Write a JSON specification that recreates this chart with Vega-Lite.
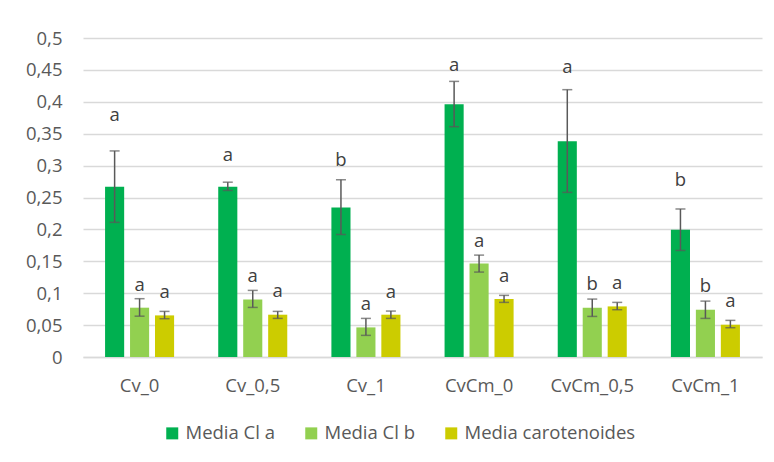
{
  "$schema": "https://vega.github.io/schema/vega-lite/v6.json",
  "width": 679,
  "height": 319,
  "autosize": "none",
  "padding": {"left": 83, "top": 38, "right": 12, "bottom": 105},
  "background": "white",
  "data": {
    "values": [
      {"grupo": "Cv_0", "serie": "Media Cl a", "valor": 0.267, "lo": 0.211, "hi": 0.323, "letra": "a", "pos_letra": 0.370},
      {"grupo": "Cv_0", "serie": "Media Cl b", "valor": 0.0773, "lo": 0.064, "hi": 0.0914, "letra": "a", "pos_letra": 0.103},
      {"grupo": "Cv_0", "serie": "Media carotenoides", "valor": 0.0652, "lo": 0.060, "hi": 0.0715, "letra": "a", "pos_letra": 0.093},
      {"grupo": "Cv_0,5", "serie": "Media Cl a", "valor": 0.267, "lo": 0.261, "hi": 0.274, "letra": "a", "pos_letra": 0.307},
      {"grupo": "Cv_0,5", "serie": "Media Cl b", "valor": 0.0903, "lo": 0.0777, "hi": 0.1044, "letra": "a", "pos_letra": 0.1174},
      {"grupo": "Cv_0,5", "serie": "Media carotenoides", "valor": 0.0663, "lo": 0.0605, "hi": 0.0715, "letra": "a", "pos_letra": 0.0935},
      {"grupo": "Cv_1", "serie": "Media Cl a", "valor": 0.2345, "lo": 0.192, "hi": 0.278, "letra": "b", "pos_letra": 0.299},
      {"grupo": "Cv_1", "serie": "Media Cl b", "valor": 0.0464, "lo": 0.0339, "hi": 0.0605, "letra": "a", "pos_letra": 0.0731},
      {"grupo": "Cv_1", "serie": "Media carotenoides", "valor": 0.0663, "lo": 0.0605, "hi": 0.072, "letra": "a", "pos_letra": 0.093},
      {"grupo": "CvCm_0", "serie": "Media Cl a", "valor": 0.396, "lo": 0.361, "hi": 0.432, "letra": "a", "pos_letra": 0.448},
      {"grupo": "CvCm_0", "serie": "Media Cl b", "valor": 0.1467, "lo": 0.1331, "hi": 0.1597, "letra": "a", "pos_letra": 0.1723},
      {"grupo": "CvCm_0", "serie": "Media carotenoides", "valor": 0.0908, "lo": 0.0856, "hi": 0.0966, "letra": "a", "pos_letra": 0.1174},
      {"grupo": "CvCm_0,5", "serie": "Media Cl a", "valor": 0.338, "lo": 0.258, "hi": 0.419, "letra": "a", "pos_letra": 0.4446},
      {"grupo": "CvCm_0,5", "serie": "Media Cl b", "valor": 0.0773, "lo": 0.0636, "hi": 0.0908, "letra": "b", "pos_letra": 0.1049},
      {"grupo": "CvCm_0,5", "serie": "Media carotenoides", "valor": 0.0793, "lo": 0.0741, "hi": 0.0856, "letra": "a", "pos_letra": 0.1071},
      {"grupo": "CvCm_1", "serie": "Media Cl a", "valor": 0.1995, "lo": 0.167, "hi": 0.232, "letra": "b", "pos_letra": 0.2674},
      {"grupo": "CvCm_1", "serie": "Media Cl b", "valor": 0.0741, "lo": 0.0605, "hi": 0.0876, "letra": "b", "pos_letra": 0.1018},
      {"grupo": "CvCm_1", "serie": "Media carotenoides", "valor": 0.0506, "lo": 0.0459, "hi": 0.0574, "letra": "a", "pos_letra": 0.0782}
    ]
  },
  "encoding": {
    "x": {
      "field": "grupo",
      "type": "nominal",
      "sort": ["Cv_0", "Cv_0,5", "Cv_1", "CvCm_0", "CvCm_0,5", "CvCm_1"],
      "scale": {"paddingInner": 0.39, "paddingOuter": 0.195},
      "axis": {
        "title": null,
        "labelAngle": 0,
        "ticks": false,
        "domainColor": "#d9d9d9",
        "domainWidth": 1.3,
        "labelPadding": 19,
        "labelBaseline": "top"
      }
    },
    "xOffset": {
      "field": "serie",
      "type": "nominal",
      "sort": ["Media Cl a", "Media Cl b", "Media carotenoides"],
      "scale": {"paddingInner": 0.235, "paddingOuter": 0}
    }
  },
  "layer": [
    {
      "mark": {"type": "bar"},
      "encoding": {
        "y": {
          "field": "valor",
          "type": "quantitative",
          "scale": {"domain": [0, 0.5], "nice": false},
          "axis": {"title": null}
        },
        "color": {
          "field": "serie",
          "type": "nominal",
          "sort": ["Media Cl a", "Media Cl b", "Media carotenoides"],
          "scale": {
            "domain": ["Media Cl a", "Media Cl b", "Media carotenoides"],
            "range": ["#00b050", "#92d050", "#cccc00"]
          },
          "legend": {
            "title": null,
            "orient": "none",
            "direction": "horizontal",
            "legendX": 80,
            "legendY": 386,
            "symbolType": "square",
            "symbolSize": 144,
            "symbolStrokeWidth": 0,
            "labelOffset": 4,
            "labelLimit": 300,
            "columnPadding": 26
          }
        }
      }
    },
    {
      "mark": {"type": "rule", "color": "#595959", "strokeWidth": 1.5},
      "encoding": {
        "y": {"field": "lo", "type": "quantitative", "axis": {"title": null}},
        "y2": {"field": "hi"}
      }
    },
    {
      "mark": {"type": "tick", "color": "#595959", "thickness": 1.5, "size": 10},
      "encoding": {"y": {"field": "lo", "type": "quantitative", "axis": {"title": null}}}
    },
    {
      "mark": {"type": "tick", "color": "#595959", "thickness": 1.5, "size": 10},
      "encoding": {"y": {"field": "hi", "type": "quantitative", "axis": {"title": null}}}
    },
    {
      "mark": {
        "type": "text",
        "baseline": "alphabetic",
        "align": "center",
        "font": "Open Sans",
        "fontSize": 18.5,
        "color": "#404040"
      },
      "encoding": {
        "y": {"field": "pos_letra", "type": "quantitative", "axis": {"title": null}},
        "text": {"field": "letra"}
      }
    }
  ],
  "config": {
    "view": {"stroke": null},
    "axis": {
      "labelFont": "Open Sans",
      "labelFontSize": 18.5,
      "labelColor": "#595959"
    },
    "axisY": {
      "tickCount": 10,
      "labelOverlap": false,
      "labelExpr": "replace(format(datum.value, '~g'), '.', ',')",
      "domain": false,
      "ticks": false,
      "grid": true,
      "gridColor": "#d9d9d9",
      "gridWidth": 1.3,
      "labelPadding": 21
    },
    "legend": {
      "labelFont": "Open Sans",
      "labelFontSize": 18.5,
      "labelColor": "#595959"
    }
  }
}
